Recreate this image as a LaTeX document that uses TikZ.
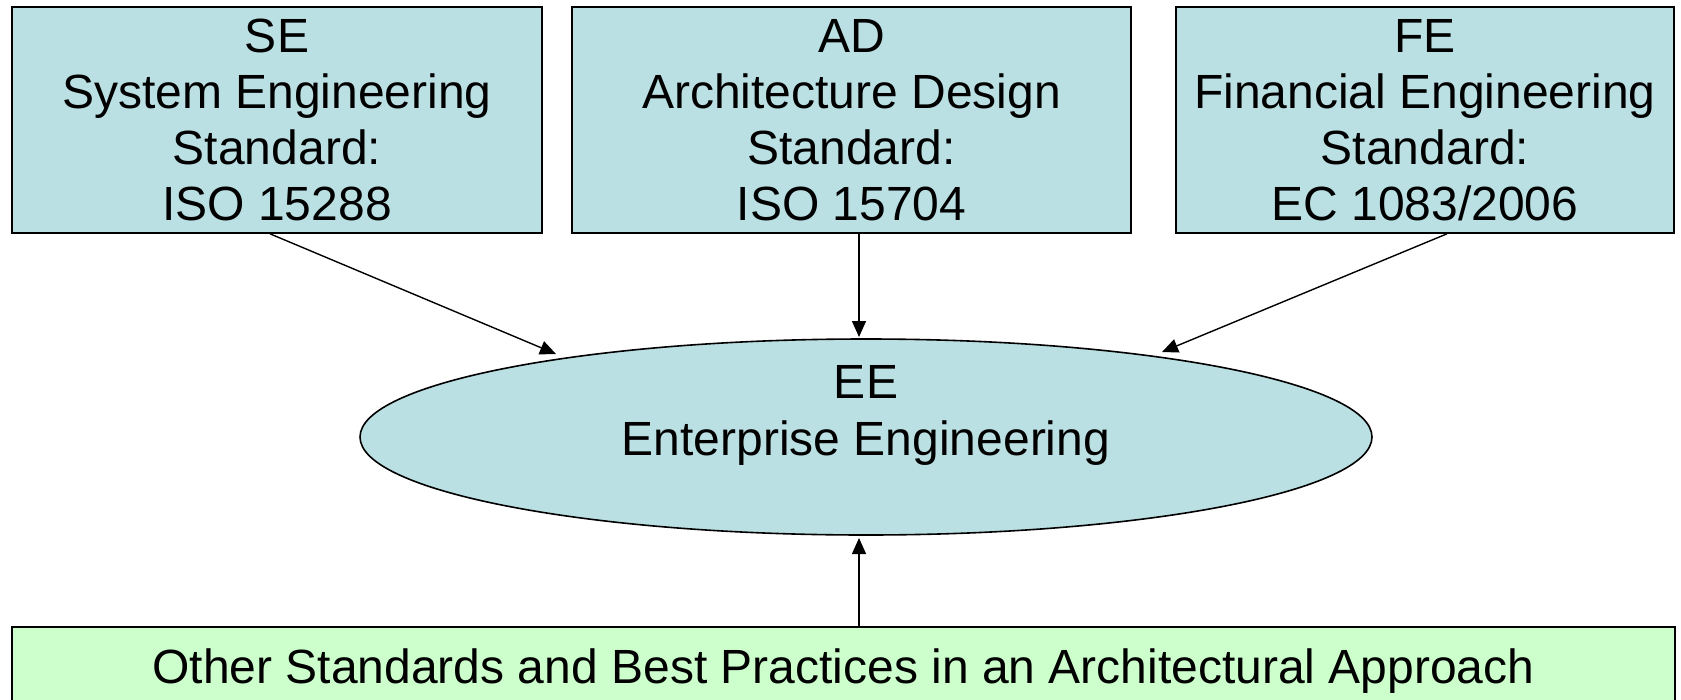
\documentclass[tikz,border=0pt]{standalone}
\usepackage{fontspec}
\setmainfont{Liberation Sans}
\usetikzlibrary{shapes.geometric,arrows.meta}
\definecolor{boxblue}{RGB}{187,224,227}
\definecolor{boxgreen}{RGB}{204,255,204}
\begin{document}
\begin{tikzpicture}[x=1pt,y=-1pt,
  stdbox/.style={draw=black,line width=1.6pt,fill=boxblue,rectangle,inner sep=0pt,align=center,
    font=\fontsize{48}{56}\selectfont},
  conn/.style={line width=1.4pt,-{Triangle[length=16pt,width=14pt]}}]
\useasboundingbox (0,0) rectangle (1681,699);
\node[stdbox,minimum width=530pt,minimum height=226pt] (SE) at (277,120)
  {SE\\System Engineering\\Standard:\\ISO 15288};
\node[stdbox,minimum width=559pt,minimum height=226pt] (AD) at (851.5,120)
  {AD\\Architecture Design\\Standard:\\ISO 15704};
\node[stdbox,minimum width=498pt,minimum height=226pt] (FE) at (1425,120)
  {FE\\Financial Engineering\\Standard:\\EC 1083/2006};
\node[ellipse,draw=black,line width=1.6pt,fill=boxblue,minimum width=1012pt,minimum height=196pt,inner sep=0pt] (EE) at (866,437) {};
\node[align=center,font=\fontsize{48}{57}\selectfont] (EEt) at (866,415) {EE\\Enterprise Engineering};
\node[draw=black,line width=1.6pt,fill=boxgreen,rectangle,minimum width=1663pt,minimum height=88pt,inner sep=0pt,
  font=\fontsize{48}{56}\selectfont] (OS) at (843.5,671) {Other Standards and Best Practices in an Architectural Approach};
\coordinate (tSE) at (556,354);
\coordinate (tAD) at (859,337);
\coordinate (tFE) at (1162,352);
\coordinate (tOS) at (859,538);
\draw[conn] ([xshift=-7pt]SE.south) -- (tSE);
\draw[conn] ([xshift=7.5pt]AD.south) -- (tAD);
\draw[conn] ([xshift=22pt]FE.south) -- (tFE);
\draw[conn] ([xshift=15.5pt]OS.north) -- (tOS);
\end{tikzpicture}
\end{document}
